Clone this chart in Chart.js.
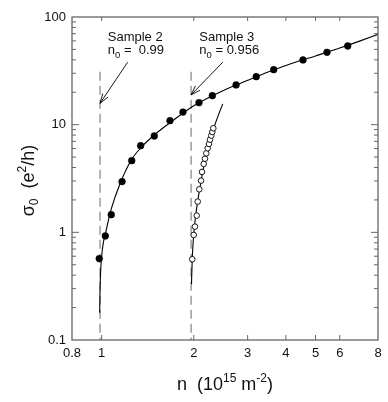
<!DOCTYPE html>
<html>
<head>
<meta charset="utf-8">
<script src="https://cdn.jsdelivr.net/npm/chart.js@4.4.0/dist/chart.umd.min.js"></script>
<style>
  html, body { margin: 0; padding: 0; background: #fff; }
  canvas { display: block; }
</style>
</head>
<body>
<canvas id="chart" width="388" height="402"></canvas>
<script>
// sample 2 (filled circles)
const sample2N = [0.982, 1.028, 1.075, 1.166, 1.254, 1.341, 1.486, 1.672, 1.844, 2.08, 2.30, 2.75, 3.20, 3.65, 4.55, 5.45, 6.37];
const sample2Sigma = [0.57, 0.926, 1.46, 2.96, 4.63, 6.38, 7.85, 10.9, 13.1, 16.0, 18.6, 23.4, 27.9, 32.4, 39.9, 47.0, 53.8];

// sample 3 (open circles)
const sample3N = [1.978, 1.999, 2.018, 2.045, 2.060, 2.085, 2.112, 2.128, 2.155, 2.176, 2.198, 2.221, 2.243, 2.260, 2.282, 2.299, 2.317];
const sample3Sigma = [0.563, 0.946, 1.13, 1.43, 1.93, 2.51, 3.02, 3.64, 4.32, 4.83, 5.42, 6.04, 6.62, 7.26, 7.91, 8.55, 9.26];

// fitted curves
const fit2N = [0.985, 0.988, 0.993, 1.005, 1.035, 1.075, 1.15, 1.25, 1.35, 1.5, 1.7, 2.0, 2.5, 3, 3.5, 4, 5, 6, 7, 8];
const fit2Sigma = [0.179, 0.29, 0.45, 0.69, 1.05, 1.65, 2.86, 4.7, 6.2, 8.2, 10.8, 15, 20.8, 25.8, 30.8, 35.5, 43.5, 51.5, 60, 69];
const fit3N = [1.966, 1.972, 1.979, 1.99, 2.005, 2.03, 2.06, 2.10, 2.15, 2.20, 2.26, 2.32, 2.40, 2.487];
const fit3Sigma = [0.33, 0.45, 0.6, 0.8, 1.05, 1.45, 1.95, 2.7, 3.9, 5.2, 7.0, 9.1, 12.0, 15.6];

// n0 markers (dashed) and arrows
const cutoffN = [0.988, 1.96];
const cutoffTop = 31;
const arrowFromN = [1.216, 2.487];
const arrowFromSigma = [38, 38];
const arrowToN = [0.988, 1.96];
const arrowToSigma = [15.8, 18.9];

// annotation text
const labelNames = ['Sample 2', 'Sample 3'];
const labelN0 = [' =  0.99', ' = 0.956'];
const labelN = [1.047, 2.085];
const labelSigma = [60.3, 60.3];

// axes
const xTicks = [0.8, 1, 2, 3, 4, 5, 6, 8];
const xTickLabels = ['0.8', '1', '2', '3', '4', '5', '6', '8'];
const xInnerTicks = [1, 2, 3, 4, 5, 6];
const yTicks = [0.1, 1, 10, 100];
const yTickLabels = ['0.1', '1', '10', '100'];

const FONT = "'Liberation Sans', Arial, Helvetica, sans-serif";
const AXIS = '#666';

function pts(xs, ys) {
  return xs.map((x, i) => ({ x: x, y: ys[i] }));
}

// draw a row of text pieces [text, size, dy]
function textRun(ctx, runs, x, y, align) {
  let w = 0;
  runs.forEach(r => { ctx.font = r[1] + 'px ' + FONT; w += ctx.measureText(r[0]).width; });
  let cx = align === 'center' ? x - w / 2 : x;
  runs.forEach(r => {
    ctx.font = r[1] + 'px ' + FONT;
    ctx.fillText(r[0], cx, y + r[2]);
    cx += ctx.measureText(r[0]).width;
  });
}

const decor = {
  id: 'decor',
  afterDraw(chart) {
    const ctx = chart.ctx;
    const a = chart.chartArea;
    const x = chart.scales.x, y = chart.scales.y;
    ctx.save();

    // frame
    ctx.strokeStyle = AXIS;
    ctx.lineWidth = 1.3;
    ctx.strokeRect(a.left, a.top, a.right - a.left, a.bottom - a.top);

    // inward ticks
    ctx.lineWidth = 1;
    ctx.beginPath();
    xInnerTicks.forEach(v => {
      const px = x.getPixelForValue(v);
      ctx.moveTo(px, a.bottom); ctx.lineTo(px, a.bottom - 5);
      ctx.moveTo(px, a.top); ctx.lineTo(px, a.top + 4);
    });
    for (let d = 0.1; d < 100; d *= 10) {
      for (let k = 1; k < 10; k++) {
        const v = d * k;
        if (v <= 0.1) continue;
        const py = y.getPixelForValue(v);
        const len = k === 1 ? 7 : 4;
        ctx.moveTo(a.left, py); ctx.lineTo(a.left + len, py);
        ctx.moveTo(a.right, py); ctx.lineTo(a.right - len, py);
      }
    }
    ctx.stroke();

    // arrows
    ctx.strokeStyle = '#000';
    ctx.lineWidth = 0.9;
    arrowFromN.forEach((n, i) => {
      const x1 = x.getPixelForValue(n), y1 = y.getPixelForValue(arrowFromSigma[i]);
      const x2 = x.getPixelForValue(arrowToN[i]), y2 = y.getPixelForValue(arrowToSigma[i]);
      const ang = Math.atan2(y2 - y1, x2 - x1);
      ctx.beginPath();
      ctx.moveTo(x1, y1); ctx.lineTo(x2, y2);
      ctx.moveTo(x2 - 10 * Math.cos(ang - 0.32), y2 - 10 * Math.sin(ang - 0.32));
      ctx.lineTo(x2, y2);
      ctx.lineTo(x2 - 10 * Math.cos(ang + 0.32), y2 - 10 * Math.sin(ang + 0.32));
      ctx.stroke();
    });

    // annotation text
    ctx.fillStyle = '#111';
    ctx.textBaseline = 'alphabetic';
    ctx.textAlign = 'left';
    labelNames.forEach((name, i) => {
      const px = x.getPixelForValue(labelN[i]);
      const py = y.getPixelForValue(labelSigma[i]);
      textRun(ctx, [[name, 13, 0]], px, py, 'left');
      textRun(ctx, [['n', 13, 0], ['0', 9.5, 4], [labelN0[i], 13, 0]], px, py + 13.5, 'left');
    });

    // x title
    const xc = (a.left + a.right) / 2;
    textRun(ctx, [['n  (10', 18, 0], ['15', 12, -8], [' m', 18, 0], ['-2', 12, -8], [')', 18, 0]], xc, 390, 'center');

    // y title
    ctx.translate(33.5, (a.top + a.bottom) / 2 + 2);
    ctx.rotate(-Math.PI / 2);
    textRun(ctx, [['\u03c3', 18, 0], ['0', 12, 4], ['  (e', 18, 0], ['2', 12, -8], ['/h)', 18, 0]], 0, 0, 'center');

    ctx.restore();
  }
};

new Chart(document.getElementById('chart'), {
  type: 'scatter',
  data: {
    datasets: [
      {
        data: pts(sample2N, sample2Sigma),
        order: 0,
        pointRadius: 3.4,
        pointBackgroundColor: '#000',
        pointBorderColor: '#000',
        pointBorderWidth: 0.5,
        showLine: false
      },
      {
        data: pts(sample3N, sample3Sigma),
        order: 1,
        pointRadius: 2.8,
        pointBackgroundColor: '#fff',
        pointBorderColor: '#000',
        pointBorderWidth: 0.9,
        showLine: false
      },
      {
        data: pts(fit2N, fit2Sigma),
        order: 2,
        showLine: true,
        pointRadius: 0,
        borderColor: '#000',
        borderWidth: 1.1,
        cubicInterpolationMode: 'monotone'
      },
      {
        data: pts(fit3N, fit3Sigma),
        order: 3,
        showLine: true,
        pointRadius: 0,
        borderColor: '#000',
        borderWidth: 1.1,
        cubicInterpolationMode: 'monotone'
      },
      {
        data: [{ x: cutoffN[0], y: cutoffTop }, { x: cutoffN[0], y: 0.1 }],
        order: 4,
        showLine: true,
        pointRadius: 0,
        borderColor: '#777',
        borderWidth: 1.1,
        borderDash: [9, 5]
      },
      {
        data: [{ x: cutoffN[1], y: cutoffTop }, { x: cutoffN[1], y: 0.1 }],
        order: 4,
        showLine: true,
        pointRadius: 0,
        borderColor: '#777',
        borderWidth: 1.1,
        borderDash: [9, 5]
      }
    ]
  },
  options: {
    responsive: false,
    animation: false,
    layout: { padding: { top: 17, right: 10, left: 0, bottom: 0 } },
    plugins: { legend: { display: false }, tooltip: { enabled: false } },
    scales: {
      x: {
        type: 'logarithmic',
        min: 0.8,
        max: 8,
        grid: { display: false, drawTicks: false },
        border: { display: false },
        afterBuildTicks: s => { s.ticks = xTicks.map(v => ({ value: v })); },
        afterFit: s => { s.height = 62; },
        ticks: {
          autoSkip: false,
          maxRotation: 0,
          padding: 6,
          color: '#111',
          font: { family: FONT, size: 13 },
          callback: (v, i) => xTickLabels[i]
        }
      },
      y: {
        type: 'logarithmic',
        min: 0.1,
        max: 100,
        grid: { display: false, drawTicks: false },
        border: { display: false },
        afterBuildTicks: s => { s.ticks = yTicks.map(v => ({ value: v })); },
        afterFit: s => { s.width = 72; },
        ticks: {
          autoSkip: false,
          padding: 6,
          color: '#111',
          font: { family: FONT, size: 13 },
          callback: (v, i) => yTickLabels[i]
        }
      }
    }
  },
  plugins: [decor]
});
</script>
</body>
</html>
